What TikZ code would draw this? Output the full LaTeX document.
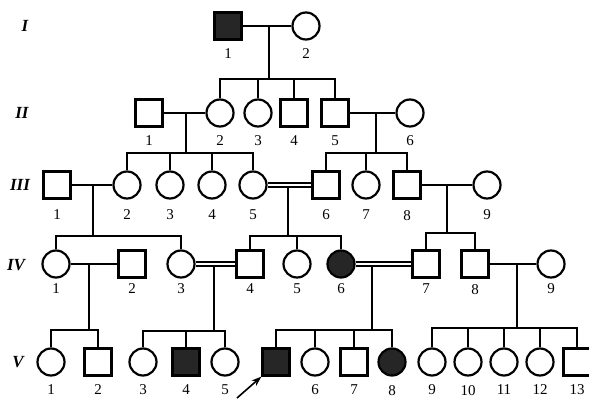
\documentclass[tikz,border=0pt]{standalone}
\usepackage{fontspec}
\setmainfont{Liberation Serif}
\usetikzlibrary{arrows.meta,calc}

\begin{document}
\begin{tikzpicture}[
    x=1pt, y=-1pt,
    line width=2.2pt,
    font=\fontsize{15}{17}\selectfont,
    every label/.style={yshift=-4pt},
    ind/.style={minimum size=27pt, inner sep=0pt, draw, line width=2.2pt},
    male/.style={ind, rectangle},
    female/.style={ind, circle},
    amale/.style={male, fill=black!85},
    afemale/.style={female, fill=black!85},
    gen/.style={font=\fontsize{17}{19}\selectfont\bfseries\itshape},
    cons/.style={double, double distance=2pt, line width=1.7pt},
    arr/.style={-{Stealth[length=10pt, width=7pt]}, line width=1.6pt}
  ]
    \useasboundingbox (0,0) rectangle (589,404);

    \node[gen] (gI) at (25,26) {I};
    \node[gen] (gII) at (22,113) {II};
    \node[gen] (gIII) at (20,185) {III};
    \node[gen] (gIV) at (16,265) {IV};
    \node[gen] (gV) at (18,362) {V};

    \node[amale, label=below:1] (I1) at (228,26) {};
    \node[female, label=below:2] (I2) at (306,26) {};

    \node[male, label=below:1] (II1) at (149,113) {};
    \node[female, label=below:2] (II2) at (220,113) {};
    \node[female, label=below:3] (II3) at (258,113) {};
    \node[male, label=below:4] (II4) at (294,113) {};
    \node[male, label=below:5] (II5) at (335,113) {};
    \node[female, label=below:6] (II6) at (410,113) {};

    \begin{scope}[every label/.style={yshift=-6pt}]
    \node[male, label=below:1] (III1) at (57,185) {};
    \node[female, label=below:2] (III2) at (127,185) {};
    \node[female, label=below:3] (III3) at (170,185) {};
    \node[female, label=below:4] (III4) at (212,185) {};
    \node[female, label=below:5] (III5) at (253,185) {};
    \node[male, label=below:6] (III6) at (326,185) {};
    \node[female, label=below:7] (III7) at (366,185) {};
    \node[male, label=below:8] (III8) at (407,185) {};
    \node[female, label=below:9] (III9) at (487,185) {};
    \end{scope}

    \begin{scope}[every label/.style={yshift=-1pt}]
    \node[female, label=below:1] (IV1) at (56,264) {};
    \node[male, label=below:2] (IV2) at (132,264) {};
    \node[female, label=below:3] (IV3) at (181,264) {};
    \node[male, label=below:4] (IV4) at (250,264) {};
    \node[female, label=below:5] (IV5) at (297,264) {};
    \node[afemale, label=below:6] (IV6) at (341,264) {};
    \node[male, label=below:7] (IV7) at (426,264) {};
    \node[male, label=below:8] (IV8) at (475,264) {};
    \node[female, label=below:9] (IV9) at (551,264) {};
    \end{scope}

    \node[female, label=below:1] (V1) at (51,362) {};
    \node[male, label=below:2] (V2) at (98,362) {};
    \node[female, label=below:3] (V3) at (143,362) {};
    \node[amale, label=below:4] (V4) at (186,362) {};
    \node[female, label=below:5] (V5) at (225,362) {};
    \node[amale] (P) at (276,362) {};
    \node[female, label=below:6] (V6) at (315,362) {};
    \node[male, label=below:7] (V7) at (354,362) {};
    \node[afemale, label=below:8] (V8) at (392,362) {};
    \node[female, label=below:9] (V9) at (432,362) {};
    \node[female, label=below:10] (V10) at (468,362) {};
    \node[female, label=below:11] (V11) at (504,362) {};
    \node[female, label=below:12] (V12) at (540,362) {};
    \node[male, label=below:13] (V13) at (577,362) {};

    \coordinate (dI) at (269,26);    \coordinate (sI) at (269,79);
    \coordinate (dII) at (186,113);  \coordinate (sII) at (186,153);
    \coordinate (dIIb) at (376,113); \coordinate (sIIb) at (376,153);
    \coordinate (dIII) at (93,185);  \coordinate (sIII) at (93,236);
    \coordinate (dIIIb) at (288,185); \coordinate (sIIIb) at (288,236);
    \coordinate (dIIIc) at (447,185); \coordinate (sIIIc) at (447,233);
    \coordinate (dIV) at (89,264);   \coordinate (sIV) at (89,330);
    \coordinate (dIVb) at (214,264); \coordinate (sIVb) at (214,331);
    \coordinate (dIVc) at (372,264); \coordinate (sIVc) at (372,330);
    \coordinate (dIVd) at (517,264); \coordinate (sIVd) at (517,328);
    \coordinate (pa) at (237,398);

    \draw (dI) -- (sI);
    \draw (II2) -- (sI -| II2) -- (sI -| II5) -- (II5);
    \foreach \c in {II3,II4} \draw (sI -| \c) -- (\c);

    \draw (dII) -- (sII);
    \draw (III2) -- (sII -| III2) -- (sII -| III5) -- (III5);
    \foreach \c in {III3,III4} \draw (sII -| \c) -- (\c);

    \draw (dIIb) -- (sIIb);
    \draw (III6) -- (sIIb -| III6) -- (sIIb -| III8) -- (III8);
    \draw (sIIb -| III7) -- (III7);

    \draw (dIII) -- (sIII);
    \draw (IV1) -- (sIII -| IV1) -- (sIII -| IV3) -- (IV3);

    \draw (dIIIb) -- (sIIIb);
    \draw (IV4) -- (sIIIb -| IV4) -- (sIIIb -| IV6) -- (IV6);
    \draw (sIIIb -| IV5) -- (IV5);

    \draw (dIIIc) -- (sIIIc);
    \draw (IV7) -- (sIIIc -| IV7) -- (sIIIc -| IV8) -- (IV8);

    \draw (dIV) -- (sIV);
    \draw (V1) -- (sIV -| V1) -- (sIV -| V2) -- (V2);

    \draw (dIVb) -- (sIVb);
    \draw (V3) -- (sIVb -| V3) -- (sIVb -| V5) -- (V5);
    \draw (sIVb -| V4) -- (V4);

    \draw (dIVc) -- (sIVc);
    \draw (P) -- (sIVc -| P) -- (sIVc -| V8) -- (V8);
    \foreach \c in {V6,V7} \draw (sIVc -| \c) -- (\c);

    \draw (dIVd) -- (sIVd);
    \draw (V9) -- (sIVd -| V9) -- (sIVd -| V13) -- (V13);
    \foreach \c in {V10,V11,V12} \draw (sIVd -| \c) -- (\c);

    \draw (I1) -- (I2);
    \draw (II1) -- (II2);
    \draw (II5) -- (II6);
    \draw (III1) -- (III2);
    \draw[cons] (III5) -- (III6);
    \draw (III8) -- (III9);
    \draw (IV1) -- (IV2);
    \draw[cons] (IV3) -- (IV4);
    \draw[cons] (IV6) -- (IV7);
    \draw (IV8) -- (IV9);

    \draw[arr] (pa) -- (P.south west);
  \end{tikzpicture}
\end{document}
